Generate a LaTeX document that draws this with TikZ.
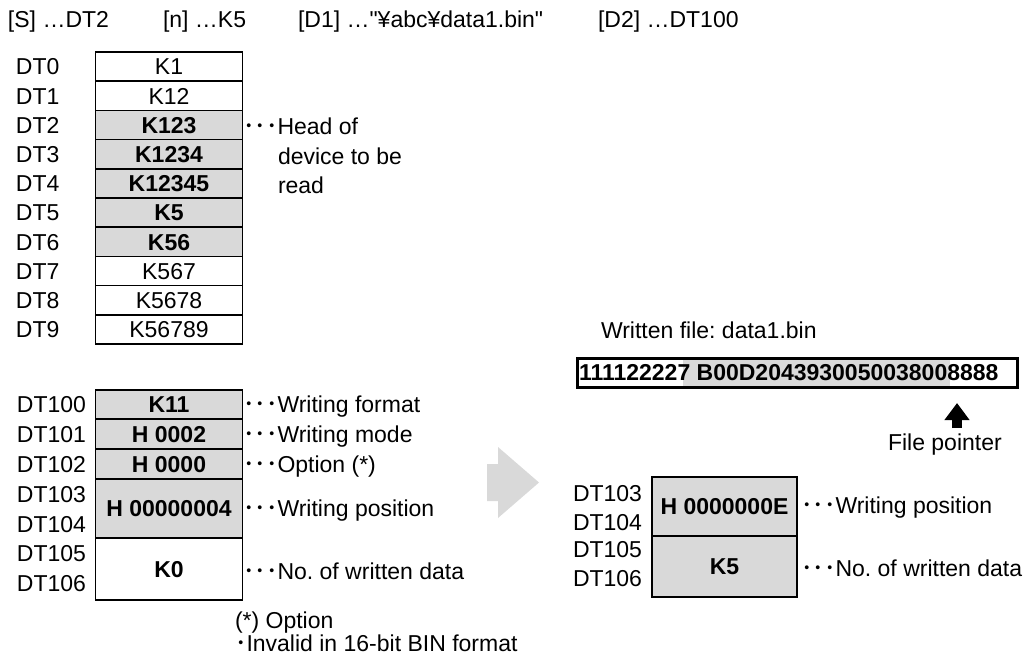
\documentclass[tikz,border=0pt]{standalone}
\usepackage{fontspec}
\setmainfont{Liberation Sans}[Ligatures=TeXOff]
\newfontfamily\jpfont{Noto Sans CJK JP}
\usepackage{tikz}
\usetikzlibrary{arrows.meta}
\definecolor{cellgray}{RGB}{217,217,217}
\newcommand{\leaderdots}{{\jpfont ･･･}}
\newcommand{\diagfont}{\fontsize{11.5}{13.8}\selectfont}
\frenchspacing

\begin{document}
\begin{tikzpicture}[x=0.5pt,y=0.5pt,
  every node/.style={font=\diagfont,inner sep=0pt,outer sep=0pt,text height=8.2pt,text depth=0pt},
  cell/.style={draw,line width=0.75pt,minimum width=73.5pt,minimum height=14.6pt},
  valcell/.style={cell,font=\diagfont\bfseries},
  hicell/.style={valcell,fill=cellgray},
  lbl/.style={anchor=west},
  note/.style={anchor=west}]
  \useasboundingbox (0,0) rectangle (1026,-654);

  \node[lbl] (hs) at (8,-19) {[S] …DT2};
  \node[lbl] (hn) at (163,-19) {[n] …K5};
  \node[lbl] (hd1) at (298,-19) {[D1] …"¥abc¥data1.bin"};
  \node[lbl] (hd2) at (598,-19) {[D2] …DT100};

  \node[lbl] (l0) at (16,-66.6) {DT0};
  \node[lbl] (l1) at (16,-95.8) {DT1};
  \node[lbl] (l2) at (16,-125.0) {DT2};
  \node[lbl] (l3) at (16,-154.2) {DT3};
  \node[lbl] (l4) at (16,-183.4) {DT4};
  \node[lbl] (l5) at (16,-212.6) {DT5};
  \node[lbl] (l6) at (16,-241.8) {DT6};
  \node[lbl] (l7) at (16,-271.0) {DT7};
  \node[lbl] (l8) at (16,-300.2) {DT8};
  \node[lbl] (l9) at (16,-329.4) {DT9};

  \node[cell] (dt0) at (169,-66.6) {K1};
  \node[cell] (dt1) at (169,-95.8) {K12};
  \node[hicell] (dt2) at (169,-125.0) {K123};
  \node[hicell] (dt3) at (169,-154.2) {K1234};
  \node[hicell] (dt4) at (169,-183.4) {K12345};
  \node[hicell] (dt5) at (169,-212.6) {K5};
  \node[hicell] (dt6) at (169,-241.8) {K56};
  \node[cell] (dt7) at (169,-271.0) {K567};
  \node[cell] (dt8) at (169,-300.2) {K5678};
  \node[cell] (dt9) at (169,-329.4) {K56789};

  \node[note] (head1) at (243,-126) {\leaderdots Head of};
  \node[note] (head2) at (278,-156) {device to be};
  \node[note] (head3) at (278,-185) {read};

  \node[lbl] (l100) at (17,-404.5) {DT100};
  \node[lbl] (l101) at (17,-434) {DT101};
  \node[lbl] (l102) at (17,-464) {DT102};
  \node[lbl] (l103) at (17,-494) {DT103};
  \node[lbl] (l104) at (17,-524) {DT104};
  \node[lbl] (l105) at (17,-553) {DT105};
  \node[lbl] (l106) at (17,-583) {DT106};

  \node[hicell,minimum height=14.5pt] (dt100) at (169,-404.5) {K11};
  \node[hicell,minimum height=15pt] (dt101) at (169,-434) {H 0002};
  \node[hicell,minimum height=15pt] (dt102) at (169,-464) {H 0000};
  \node[hicell,minimum height=29.5pt] (dt103) at (169,-508.5) {H 00000004};
  \node[valcell,minimum height=31pt] (dt105) at (169,-569) {K0};

  \node[note] (n100) at (243,-404.5) {\leaderdots Writing format};
  \node[note] (n101) at (243,-434) {\leaderdots Writing mode};
  \node[note] (n102) at (243,-464) {\leaderdots Option (*)};
  \node[note] (n103) at (243,-508.5) {\leaderdots Writing position};
  \node[note] (n105) at (243,-571) {\leaderdots No. of written data};

  \node[lbl] (foot1) at (235,-620) {(*) Option};
  \node[lbl] (foot2) at (235,-643) {{\jpfont ･}Invalid in 16-bit BIN format};

  \fill[cellgray] (487,-464) -- (498,-464) -- (498,-447) -- (539,-482.5) -- (498,-518) -- (498,-501) -- (487,-501) -- cycle;

  \node[lbl] (wfile) at (601,-330) {Written file: data1.bin};
  \fill[cellgray] (683,-359) rectangle (950,-386);
  \draw[line width=1.5pt] (577,-358) rectangle (1017,-387);
  \node[lbl,font=\diagfont\bfseries] (bytes) at (579,-372.5) {111122227 B00D2043930050038008888};
  \node[lbl] (fptr) at (888,-442) {File pointer};
  \coordinate (ptrtail) at (957,-428);
  \coordinate (ptrhead) at (957,-403);
  \draw[line width=5pt,-{Triangle[width=12pt,length=8.5pt]}] (ptrtail) -- (ptrhead);

  \node[lbl] (r103) at (573,-493) {DT103};
  \node[lbl] (r104) at (573,-522) {DT104};
  \node[lbl] (r105) at (573,-549) {DT105};
  \node[lbl] (r106) at (573,-578) {DT106};

  \node[hicell,minimum width=72.5pt,minimum height=29.5pt] (rdt103) at (724.5,-506.5) {H 0000000E};
  \node[hicell,minimum width=72.5pt,minimum height=30.5pt] (rdt105) at (724.5,-566.5) {K5};

  \node[note] (rn103) at (801,-505) {\leaderdots Writing position};
  \node[note] (rn105) at (801,-568) {\leaderdots No. of written data};
\end{tikzpicture}
\end{document}
